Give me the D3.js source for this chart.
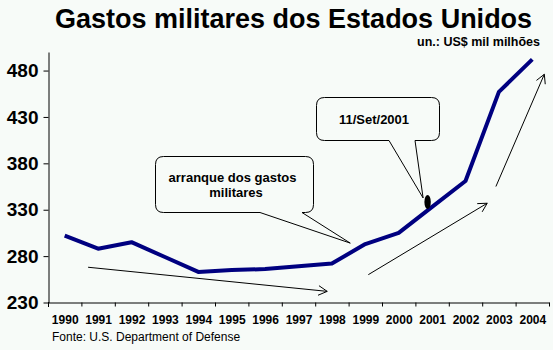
<!DOCTYPE html>
<html><head><meta charset="utf-8">
<script src="https://cdn.jsdelivr.net/npm/d3@7"></script>
<style>
html,body{margin:0;padding:0;background:#f7fbf8;}
svg{display:block;font-family:"Liberation Sans",Arial,sans-serif;}
</style></head>
<body>
<svg id="chart" width="553" height="350"></svg>
<script>
// ---- data ----
const years = [1990,1991,1992,1993,1994,1995,1996,1997,1998,1999,2000,2001,2002,2003,2004];
const spending = [302,288,295,279,263,265,266,269,272,293,305,333,361,457,492];
const yTicks = [230,280,330,380,430,480];
const titleText = "Gastos militares dos Estados Unidos";
const unitText = "un.: US$ mil milhões";
const sourceText = "Fonte: U.S. Department of Defense";
const calloutStart = ["arranque dos gastos","militares"];
const calloutSept = ["11/Set/2001"];
// trend arrows in data units: [yearFrom, valueFrom, yearTo, valueTo]
const trendArrows = [
  [1990.7,268,1997.86,242],
  [1999.09,260,2002.65,337],
  [2002.91,355,2004.36,476]
];

const svg = d3.select("#chart");
svg.append("rect").attr("width",553).attr("height",350).attr("fill","#f7fbf8");

const x = d3.scaleLinear().domain([years[0]-0.5, years[years.length-1]+0.5]).range([48,549]);
const y = d3.scaleLinear().domain([230,500]).range([302.5,52]);
const bw = x(1)-x(0);

// title
svg.append("text").attr("x",55).attr("y",28).attr("font-size",27).attr("font-weight","bold")
  .attr("fill","#000").text(titleText);
svg.append("text").attr("x",540).attr("y",46).attr("text-anchor","end").attr("font-size",12.5)
  .attr("font-weight","bold").text(unitText);

// y axis
const yAxis = d3.axisLeft(y).tickValues(yTicks).tickSize(5).tickSizeOuter(0).tickPadding(5);
const gy = svg.append("g").attr("transform","translate(48.5,0)").call(yAxis);
gy.selectAll("path,line").attr("stroke","#000");
gy.selectAll("text").attr("font-size",19).attr("font-weight","bold").attr("fill","#000")
  .attr("font-family","'Liberation Sans',Arial,sans-serif");

// x axis: ticks at category boundaries
const bounds = d3.range(years.length+1).map(i=>years[0]-0.5+i);
const xAxis = d3.axisBottom(x).tickValues(bounds).tickSize(4).tickSizeOuter(0).tickFormat("");
const gx = svg.append("g").attr("transform","translate(0,302.5)").call(xAxis);
gx.selectAll("path,line").attr("stroke","#000");
// y axis extends slightly below
svg.append("line").attr("x1",48.5).attr("x2",48.5).attr("y1",302).attr("y2",307).attr("stroke","#000");

// x labels
const xLab = d3.axisBottom(x).tickValues(years).tickSize(0).tickPadding(13).tickFormat(d3.format("d"));
const gxl = svg.append("g").attr("transform","translate(0,302.5)").call(xLab);
gxl.select("path").remove();
gxl.selectAll("text").attr("font-size",12).attr("font-weight","bold").attr("fill","#000")
  .attr("font-family","'Liberation Sans',Arial,sans-serif");

// source
svg.append("text").attr("x",52).attr("y",341).attr("font-size",12).text(sourceText);

// line
const line = d3.line().x((d,i)=>x(years[i])).y(d=>y(d));
svg.append("path").datum(spending).attr("d",line).attr("fill","none")
  .attr("stroke","#000080").attr("stroke-width",4).attr("stroke-linejoin","round");

// trend arrows
function arrow(x1,y1,x2,y2){
  const g = svg.append("g").attr("stroke","#000").attr("stroke-width",1).attr("fill","none");
  g.append("line").attr("x1",x1).attr("y1",y1).attr("x2",x2).attr("y2",y2);
  const a = Math.atan2(y2-y1,x2-x1), L=10, s=0.5;
  g.append("path").attr("d",`M${x2-L*Math.cos(a-s)},${y2-L*Math.sin(a-s)}L${x2},${y2}L${x2-L*Math.cos(a+s)},${y2-L*Math.sin(a+s)}`);
}
trendArrows.forEach(t=>arrow(x(t[0]),y(t[1]),x(t[2]),y(t[3])));

// callout with tail on bottom edge
function callout(x0,y0,x1,y1,r,ta,tb,tip){
  const p = d3.path();
  p.moveTo(x0+r,y0);
  p.lineTo(x1-r,y0); p.quadraticCurveTo(x1,y0,x1,y0+r);
  p.lineTo(x1,y1-r); p.quadraticCurveTo(x1,y1,x1-r,y1);
  p.lineTo(tb,y1); p.lineTo(tip[0],tip[1]); p.lineTo(ta,y1);
  p.lineTo(x0+r,y1); p.quadraticCurveTo(x0,y1,x0,y1-r);
  p.lineTo(x0,y0+r); p.quadraticCurveTo(x0,y0,x0+r,y0);
  p.closePath();
  svg.append("path").attr("d",p.toString()).attr("fill","#f7fbf8").attr("stroke","#000").attr("stroke-width",1);
}
const tip1 = [x(1998)+0.55*bw, y(294)];
callout(155.5,156.5,313.5,212.5,8,260,302,tip1);
svg.append("g").attr("font-size",13).attr("font-weight","bold").attr("text-anchor","middle")
  .selectAll("text").data(calloutStart).join("text")
  .attr("x",(d,i)=>i?236:232.5).attr("y",(d,i)=>181.5+i*15.5).text(d=>d);

const tip2 = [x(2001)-9, y(spending[11])-9];
callout(316.5,97.5,439.5,140.5,8,389,415,tip2);
svg.append("text").attr("x",374).attr("y",124).attr("font-size",13).attr("font-weight","bold")
  .attr("text-anchor","middle").text(calloutSept[0]);
svg.append("ellipse").attr("cx",x(2001)-4.5).attr("cy",y(spending[11])-5).attr("rx",3.2).attr("ry",7).attr("fill","#000");
</script>
</body></html>
